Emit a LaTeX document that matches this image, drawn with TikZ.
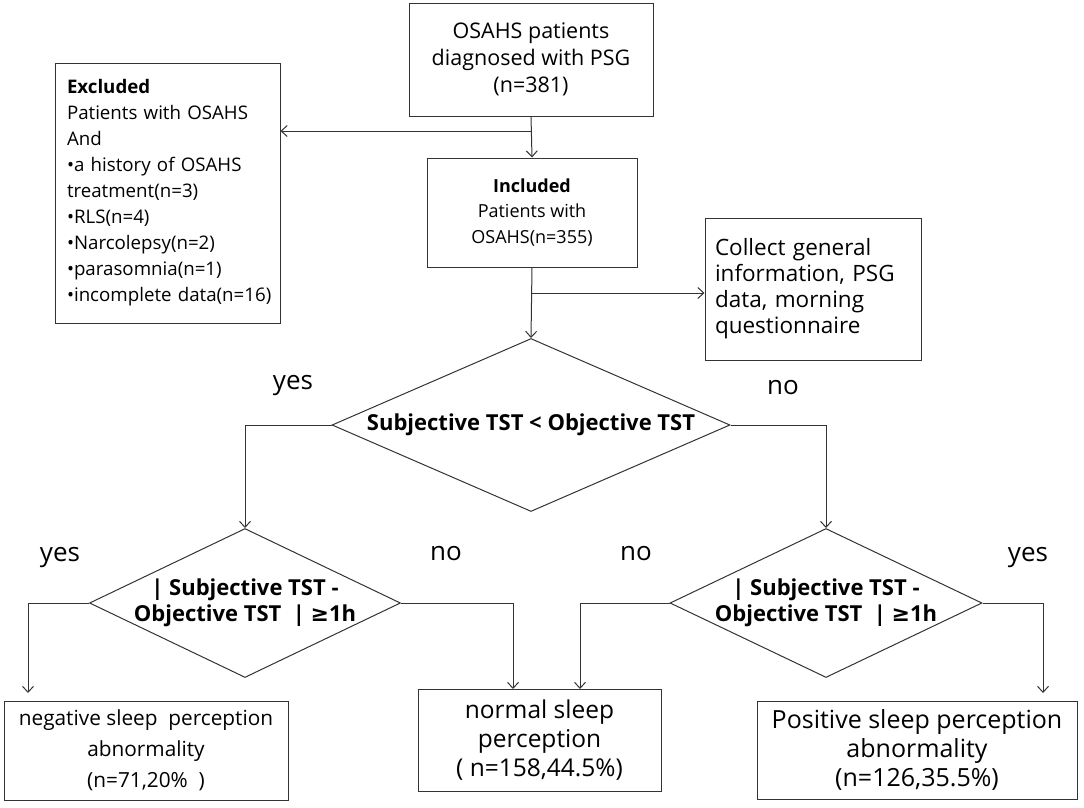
\documentclass[tikz,border=0pt]{standalone}
\usepackage{fontspec}
\setmainfont{Open Sans}
\newfontfamily\djv{DejaVu Sans}
\usetikzlibrary{shapes.geometric,arrows.meta}

\tikzset{
    box/.style={draw=black!80, line width=1pt, rectangle, inner sep=0pt, align=center},
    dia/.style={draw=black!80, line width=1pt, diamond, inner sep=0pt},
    arr/.style={draw=black!80, line width=1pt, -{Straight Barb[length=6pt,width=11pt]}},
    lab/.style={font=\fontsize{26}{30}\selectfont}
}

\begin{document}
\begin{tikzpicture}[x=1pt,y=-1pt]
            \useasboundingbox (0,0) rectangle (1084,807);

            % boxes
            \node[box, minimum width=244, minimum height=113, font=\fontsize{21.5}{27}\selectfont] (osa) at (531,59.5)
                {OSAHS patients\\diagnosed with PSG\\(n=381)};
            \node[box, minimum width=225, minimum height=260, inner xsep=12pt, text width=201, align=left, font=\fontsize{18.7}{26}\selectfont] (excl) at (167.5,193)
                {\textbf{Excluded}\\Patients with OSAHS\\And\\•a history of OSAHS\\treatment(n=3)\\•RLS(n=4)\\•Narcolepsy(n=2)\\•parasomnia(n=1)\\•incomplete~data(n=16)};
            \node[box, minimum width=210, minimum height=109, font=\fontsize{18}{25.5}\selectfont] (incl) at (532,212.5)
                {\textbf{Included}\\Patients with\\OSAHS(n=355)};
            \node[box, minimum width=216, minimum height=142, inner xsep=10pt, text width=196, align=left, font=\fontsize{22.5}{26}\selectfont] (coll) at (813,289)
                {Collect general\\information, PSG\\data, morning\\questionnaire};

            % decisions
            \node[dia, minimum width=398, minimum height=173] (d1) at (531,425) {};
            \node[font=\bfseries\fontsize{22}{25}\selectfont] at (d1) {Subjective TST < Objective TST};
            \node[dia, minimum width=311, minimum height=149] (d2) at (245,603) {};
            \node[align=center, font=\bfseries\fontsize{22}{26}\selectfont] at (d2) {| Subjective TST -\\Objective TST \ | {\djv ≥}1h};
            \node[dia, minimum width=312, minimum height=149] (d3) at (826,603) {};
            \node[align=center, font=\bfseries\fontsize{22}{26}\selectfont] at (d3) {| Subjective TST -\\Objective TST \ | {\djv ≥}1h};

            % results
            \node[box, minimum width=284, minimum height=99, font=\fontsize{20.8}{31}\selectfont] (neg) at (146,750.5)
                {negative sleep\ \ perception\\abnormality\\(n=71,20\%\ \ )};
            \node[box, minimum width=243, minimum height=102, font=\fontsize{24.5}{29}\selectfont] (norm) at (539.5,740)
                {normal sleep\\perception\\(\ n=158,44.5\%)};
            \node[box, minimum width=320, minimum height=98, font=\fontsize{25}{29}\selectfont] (pos) at (917,750)
                {Positive sleep perception\\abnormality\\(n=126,35.5\%)};

            % connectors
            \coordinate (b1) at (531,131);
            \coordinate (b2) at (531,293);
            \coordinate (tneg) at (28,693);
            \coordinate (tnl) at (513,689);
            \coordinate (tnr) at (580,689);
            \coordinate (tpos) at (1043,693);

            \draw[arr] (osa.south) -- (incl.north);
            \draw[arr] (b1) -- (b1 -| excl.east);
            \draw[arr] (incl.south) -- (d1.north);
            \draw[arr] (b2) -- (b2 -| coll.west);
            \draw[arr] (d1.west) -| (d2.north);
            \draw[arr] (d1.east) -| (d3.north);
            \draw[arr] (d2.west) -| (tneg);
            \draw[arr] (d2.east) -| (tnl);
            \draw[arr] (d3.west) -| (tnr);
            \draw[arr] (d3.east) -| (tpos);

            % branch labels
            \node[lab] (y1) at (293,386) {yes};
            \node[lab] (n1) at (783,388) {no};
            \node[lab] (y2) at (60,558) {yes};
            \node[lab] (n2) at (446,554) {no};
            \node[lab] (n3) at (636,554) {no};
            \node[lab] (y3) at (1028,558) {yes};
        \end{tikzpicture}
\end{document}
